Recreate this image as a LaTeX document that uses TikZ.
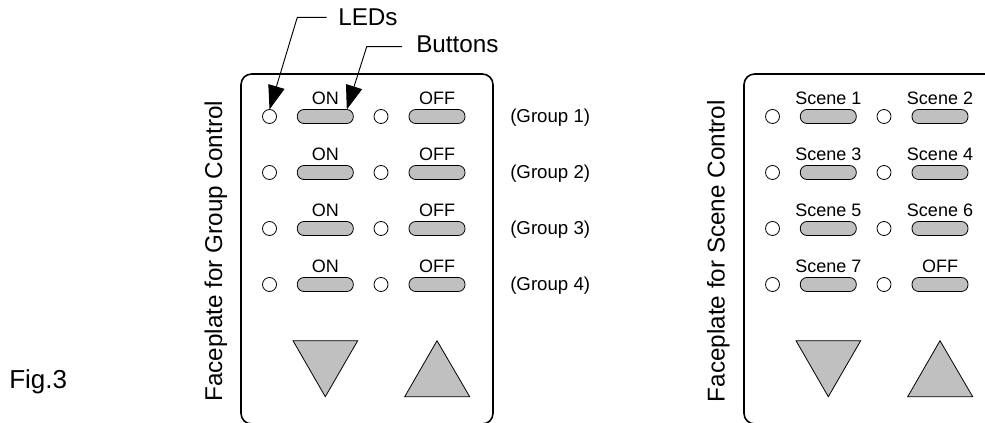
\documentclass[tikz,border=0pt]{standalone}
\usepackage{fontspec}
\setmainfont{Liberation Sans}
\usetikzlibrary{arrows.meta,positioning,calc}
\definecolor{faceGray}{RGB}{192,192,192}
\tikzset{
  >={Triangle[length=18pt,width=12.5pt]},
  faceplate/.style={draw,line width=1.2pt,rounded corners=8pt,minimum width=189pt,minimum height=262.5pt,outer sep=0pt,inner sep=0pt},
  ledLamp/.style={circle,draw,line width=0.6pt,fill=white,minimum size=10.5pt,inner sep=0pt,outer sep=0pt},
  pushButton/.style={draw,line width=0.6pt,fill=faceGray,rounded corners=5pt,minimum width=42pt,minimum height=10.5pt,inner sep=0pt,outer sep=0pt},
  arrowKey/.style={draw,line width=0.6pt,fill=faceGray,line join=miter},
  keyLabel/.style={font=\fontsize{13.5pt}{15pt}\selectfont,anchor=base,inner sep=0pt},
  groupTag/.style={font=\fontsize{14pt}{16pt}\selectfont,anchor=base west,inner sep=0pt},
  bigLabel/.style={font=\fontsize{18.2pt}{20pt}\selectfont,anchor=base west,inner sep=0pt},
  leader/.style={line width=0.7pt},
}

\begin{document}
\begin{tikzpicture}[x=0.75pt,y=-0.75pt]
\useasboundingbox (0,0) rectangle (985,423);
\clip (0,0) rectangle (985,423);

% Column anchors
\coordinate (Cgroup) at (0,0);   % faceplate for group control
\coordinate (Cscene) at (503,0); % faceplate for scene control

% ===== Faceplates =====
\node[faceplate] (plateGroup) at ($(Cgroup)+(367,249)$) {};
\node[faceplate] (plateScene) at ($(Cscene)+(367,249)$) {};
\node[bigLabel,rotate=90] (titleGroup) at (222,402) {Faceplate for Group Control};
\node[bigLabel,rotate=90] (titleScene) at (724.5,402.5) {Faceplate for Scene Control};

% ===== Group faceplate rows =====
\foreach [count=\r] \y in {116.5,172.5,228.5,284.5} {
  \node[ledLamp] (ledA\r) at ($(Cgroup)+(269.5,\y)$) {};
  \node[pushButton] (btnA\r) at ($(Cgroup)+(325.3,\y)$) {};
  \node[ledLamp] (ledB\r) at ($(Cgroup)+(381,\y)$) {};
  \node[pushButton] (btnB\r) at ($(Cgroup)+(437,\y)$) {};
  \node[keyLabel] (onLabel\r) at ($(btnA\r)+(0,-11.5)$) {ON};
  \node[keyLabel] (offLabel\r) at ($(btnB\r)+(0,-11.5)$) {OFF};
  \node[groupTag] (groupLabel\r) at ($(Cgroup)+(510,\y+6)$) {(Group \r)};
}

% ===== Scene faceplate rows =====
\foreach [count=\r] \y/\first/\second in {116.5/Scene 1/Scene 2,172.5/Scene 3/Scene 4,228.5/Scene 5/Scene 6,284.5/Scene 7/OFF} {
  \node[ledLamp] (ledC\r) at ($(Cscene)+(269.5,\y)$) {};
  \node[pushButton] (btnC\r) at ($(Cscene)+(325.3,\y)$) {};
  \node[ledLamp] (ledD\r) at ($(Cscene)+(381,\y)$) {};
  \node[pushButton] (btnD\r) at ($(Cscene)+(437,\y)$) {};
  \node[keyLabel] (sceneLabelA\r) at ($(btnC\r)+(0,-11.5)$) {\first};
  \node[keyLabel] (sceneLabelB\r) at ($(btnD\r)+(0,-11.5)$) {\second};
}

% ===== Down and up keys =====
\foreach \c in {Cgroup,Cscene} {
  \draw[arrowKey] ($(\c)+(293,340.7)$) -- ($(\c)+(357.7,340.7)$) -- ($(\c)+(325.3,396.7)$) -- cycle;
  \draw[arrowKey] ($(\c)+(404.7,396.7)$) -- ($(\c)+(469.7,396.7)$) -- ($(\c)+(437,340.7)$) -- cycle;
}

% ===== Callouts =====
\node[bigLabel] (ledsLabel) at (338,26) {LEDs};
\node[bigLabel] (buttonsLabel) at (416,53) {Buttons};
\coordinate (ledsStart) at (326.7,17.3);
\coordinate (ledsBend) at (297.3,17.3);
\coordinate (buttonsStart) at (402,46.7);
\coordinate (buttonsBend) at (366.7,46.7);
\coordinate (buttonsTip) at ($(btnA1.north)+(21.5,0)$);
\draw[leader,->] (ledsStart) -- (ledsBend) -- (ledA1.north);
\draw[leader,->] (buttonsStart) -- (buttonsBend) -- (buttonsTip);

\node[bigLabel,font=\fontsize{19.5pt}{21pt}\selectfont] (figLabel) at (9,389) {Fig.3};

\end{tikzpicture}
\end{document}
